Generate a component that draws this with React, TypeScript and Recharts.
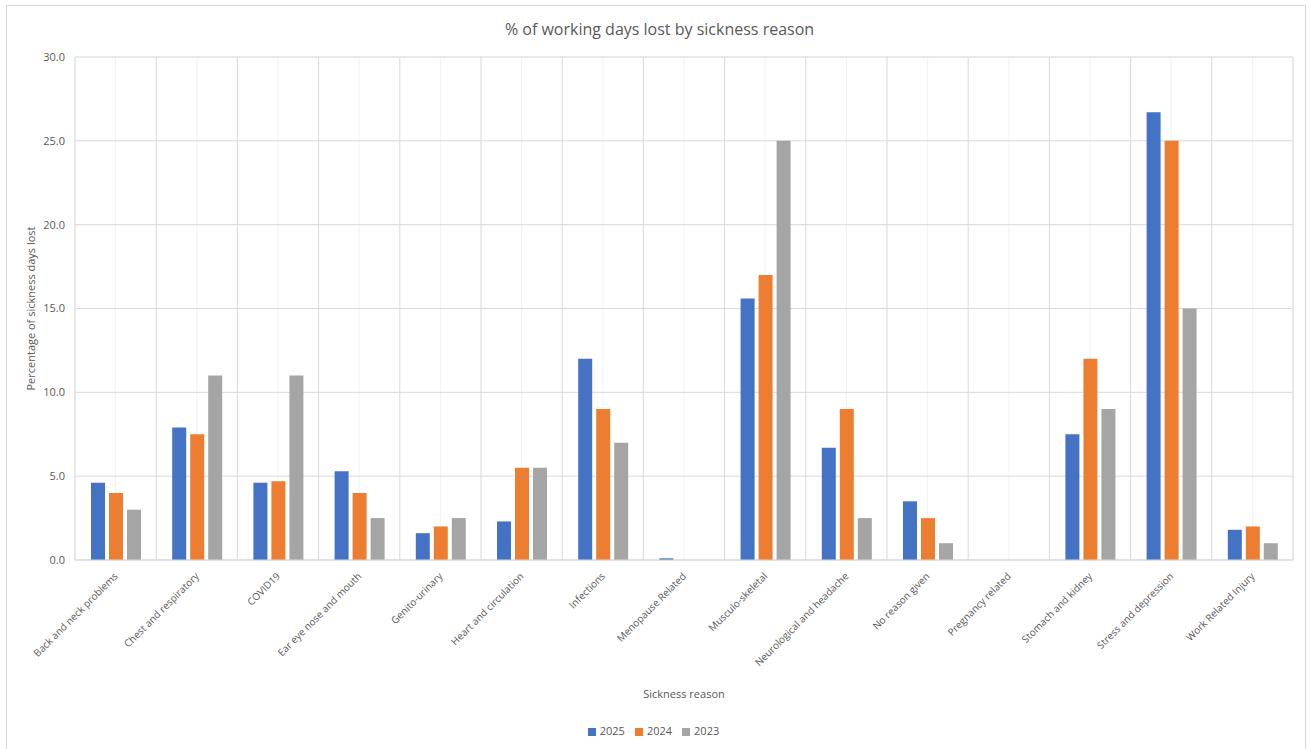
import React from "react";
import {
  BarChart,
  Bar,
  XAxis,
  YAxis,
  CartesianGrid,
  Legend,
  Label,
} from "recharts";

const categories = [
  "Back and neck problems",
  "Chest and respiratory",
  "COVID19",
  "Ear eye nose and mouth",
  "Genito-urinary",
  "Heart and circulation",
  "Infections",
  "Menopause Related",
  "Musculo-skeletal",
  "Neurological and headache",
  "No reason given",
  "Pregnancy related",
  "Stomach and kidney",
  "Stress and depression",
  "Work Related Injury",
];

const values2025 = [4.6, 7.9, 4.6, 5.3, 1.6, 2.3, 12.0, 0.1, 15.6, 6.7, 3.5, 0, 7.5, 26.7, 1.8];
const values2024 = [4.0, 7.5, 4.7, 4.0, 2.0, 5.5, 9.0, 0, 17.0, 9.0, 2.5, 0, 12.0, 25.0, 2.0];
const values2023 = [3.0, 11.0, 11.0, 2.5, 2.5, 5.5, 7.0, 0, 25.0, 2.5, 1.0, 0, 9.0, 15.0, 1.0];

const majorTicks = [0, 5, 10, 15, 20, 25, 30];
const minorTicks = Array.from({ length: 31 }, (_, i) => i);

const data = categories.map((c, i) => ({
  name: c,
  y2025: values2025[i],
  y2024: values2024[i],
  y2023: values2023[i],
}));

const FONT = "'Open Sans', 'Liberation Sans', sans-serif";
const TEXT = "#595959";

const AngledTick = (props: any) => {
  const { x, y, payload } = props;
  return (
    <g transform={`translate(${x},${y + 6})`}>
      <text
        x={0}
        y={0}
        transform="rotate(-45)"
        textAnchor="end"
        dominantBaseline="central"
        fontSize={10}
        fontFamily={FONT}
        fill={TEXT}
      >
        {payload.value}
      </text>
    </g>
  );
};

const boundaryGen = (props: any) => {
  const { offset } = props;
  const n = categories.length;
  return Array.from({ length: n + 1 }, (_, i) => offset.left + (i * offset.width) / n);
};

export default function App() {
  return (
    <div
      style={{
        position: "absolute",
        left: 0,
        top: 0,
        width: 1309,
        height: 749,
        background: "#fff",
        fontFamily: FONT,
      }}
    >
      <div
        style={{
          position: "absolute",
          left: 6,
          top: 5,
          width: 1300,
          height: 750,
          border: "1px solid #d9d9d9",
          boxSizing: "border-box",
        }}
      />
      <div
        style={{
          position: "absolute",
          top: 18,
          left: 0,
          width: 1319,
          textAlign: "center",
          fontSize: 16,
          color: TEXT,
          fontFamily: FONT,
        }}
      >
        % of working days lost by sickness reason
      </div>
      <div style={{ position: "absolute", left: 0, top: 0 }}>
        <BarChart
          width={1309}
          height={749}
          data={data}
          margin={{ top: 57, right: 16, left: 0, bottom: 0 }}
          barCategoryGap={15}
          barGap={4}
        >
          <CartesianGrid
            yAxisId="minor"
            stroke="#f2f2f2"
            strokeWidth={1}
            horizontal={true}
            vertical={true}
          />
          <CartesianGrid
            yAxisId="main"
            stroke="#d9d9d9"
            strokeWidth={1}
            horizontal={true}
            vertical={true}
            verticalCoordinatesGenerator={boundaryGen}
          />
          <XAxis
            dataKey="name"
            interval={0}
            tick={<AngledTick />}
            tickLine={false}
            axisLine={{ stroke: "#d9d9d9" }}
            height={163}
          >
            <Label
              value="Sickness reason"
              position="insideTop"
              offset={130}
              fontSize={11}
              fontFamily={FONT}
              fill={TEXT}
            />
          </XAxis>
          <YAxis
            yAxisId="minor"
            domain={[0, 30]}
            ticks={minorTicks}
            hide
          />
          <YAxis
            yAxisId="main"
            domain={[0, 30]}
            ticks={majorTicks}
            tickFormatter={(v: number) => v.toFixed(1)}
            tick={{ fontSize: 11, fill: TEXT, fontFamily: FONT }}
            tickLine={false}
            axisLine={false}
            width={75}
            tickMargin={4}
          >
            <Label
              value="Percentage of sickness days lost"
              angle={-90}
              position="insideLeft"
              offset={31}
              style={{ textAnchor: "middle" }}
              fontSize={11}
              fontFamily={FONT}
              fill={TEXT}
            />
          </YAxis>
          <Legend
            verticalAlign="bottom"
            align="center"
            iconType="square"
            iconSize={8}
            height={26}
            itemSorter={(item: any) => -Number(item.value)}
            wrapperStyle={{ fontSize: 11, fontFamily: FONT, color: TEXT, paddingLeft: 24, boxSizing: "border-box" }}
            formatter={(v: string) => <span style={{ color: TEXT }}>{v}</span>}
          />
          <Bar yAxisId="main" dataKey="y2025" name="2025" fill="#4472C4" barSize={14} isAnimationActive={false} />
          <Bar yAxisId="main" dataKey="y2024" name="2024" fill="#ED7D31" barSize={14} isAnimationActive={false} />
          <Bar yAxisId="main" dataKey="y2023" name="2023" fill="#A5A5A5" barSize={14} isAnimationActive={false} />
        </BarChart>
      </div>
    </div>
  );
}
